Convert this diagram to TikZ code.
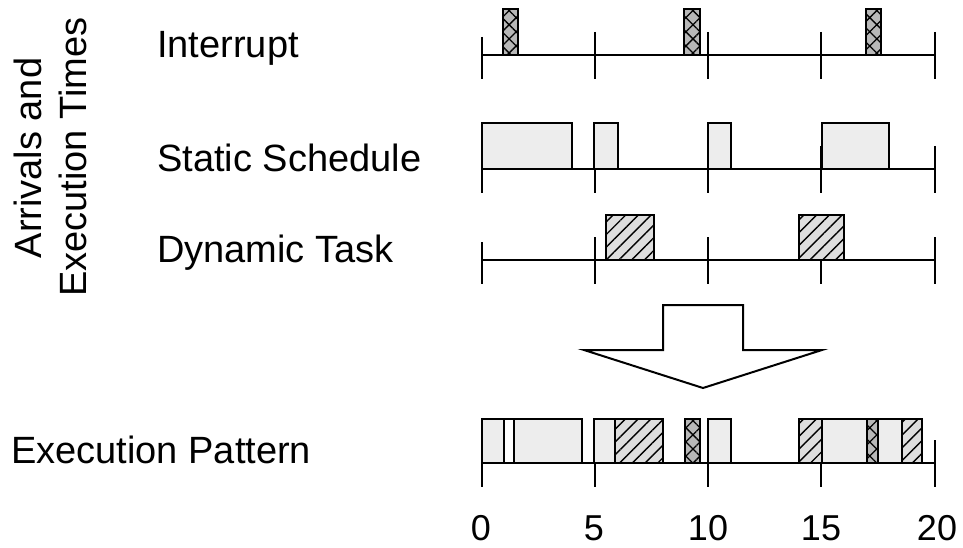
\documentclass[tikz,border=0pt]{standalone}
\usepackage{fontspec}
\setmainfont{Liberation Sans}
\usetikzlibrary{patterns.meta}
\begin{document}
\begin{tikzpicture}[x=1pt,y=-1pt,
  line join=miter,
  lbl/.style={font=\fontsize{38}{40}\selectfont, inner sep=0pt},
  numlbl/.style={font=\fontsize{36}{38}\selectfont, inner sep=0pt},
  axisline/.style={line width=2.6pt},
  tickmark/.style={line width=2.6pt},
  statbox/.style={draw, line width=2.6pt, fill=black!7},
  gapbox/.style={draw, line width=2.6pt, fill=white},
  dynbox/.style={draw, line width=2.6pt, preaction={fill=black!13},
    pattern={Lines[angle=45,distance=9pt,line width=1.4pt]}, pattern color=black},
  intbox/.style={draw, line width=2.6pt, preaction={fill=black!28},
    pattern={Hatch[angle=45,distance=10pt,line width=1.3pt]}, pattern color=black},
  bigarrow/.style={draw, line width=2pt, fill=white}
]
\useasboundingbox (0,0) rectangle (963,548);

% row labels
\node[lbl, anchor=base west] (lint) at (157,58) {Interrupt};
\node[lbl, anchor=base west] (lstat) at (157,172) {Static Schedule};
\node[lbl, anchor=base west] (ldyn) at (157,262) {Dynamic Task};
\node[lbl, anchor=base west] (lexec) at (11,463) {Execution Pattern};
\node[lbl, anchor=base, rotate=90] (yl1) at (41,158) {Arrivals and};
\node[lbl, anchor=base, rotate=90] (yl2) at (86,157) {Execution Times};

% time axes with ticks every 5 units
\foreach \ya in {55,169,260,463}{
  \draw[axisline] (482,\ya) -- (935,\ya);
  \draw[tickmark] (482,\ya-18) -- (482,\ya+24);
  \foreach \xt in {595,708,821,935}
    \draw[tickmark] (\xt,\ya-23) -- (\xt,\ya+24);
}

% interrupt arrivals
\foreach \xa/\xb in {503/518,684/700,866/881}
  \draw[intbox] (\xa,9) rectangle (\xb,55);

% static schedule slots
\foreach \xa/\xb in {482/572,594/618,708/731,822/889}
  \draw[statbox] (\xa,123) rectangle (\xb,169);

% dynamic task
\foreach \xa/\xb in {606/654,799/844}
  \draw[dynbox] (\xa,215) rectangle (\xb,260);

% resulting execution pattern
\draw[statbox] (482,419) rectangle (504,463);
\draw[gapbox]  (504,419) rectangle (514,463);
\draw[statbox] (514,419) rectangle (582,463);
\draw[statbox] (594,419) rectangle (615,463);
\draw[dynbox]  (615,419) rectangle (663,463);
\draw[intbox]  (685,419) rectangle (700,463);
\draw[statbox] (708,419) rectangle (731,463);
\draw[dynbox]  (799,419) rectangle (822,463);
\draw[statbox] (822,419) rectangle (867,463);
\draw[intbox]  (867,419) rectangle (878,463);
\draw[statbox] (878,419) rectangle (902,463);
\draw[dynbox]  (902,419) rectangle (922,463);

% block arrow
\draw[bigarrow] (663,305) -- (743,305) -- (743,350) -- (822,350) -- (703,388)
  -- (584,350) -- (663,350) -- cycle;

% tick values
\node[numlbl, anchor=base] (n0) at (481,540) {0};
\node[numlbl, anchor=base] (n5) at (594,540) {5};
\node[numlbl, anchor=base] (n10) at (708,540) {10};
\node[numlbl, anchor=base] (n15) at (821,540) {15};
\node[numlbl, anchor=base] (n20) at (937,540) {20};
\end{tikzpicture}
\end{document}
